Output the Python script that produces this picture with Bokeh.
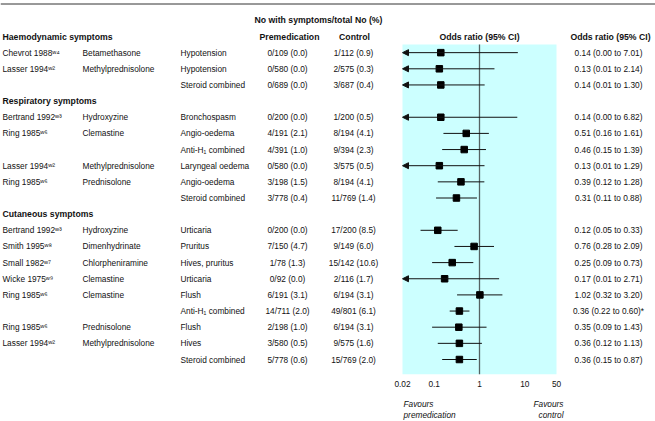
import math
from bokeh.plotting import figure
from bokeh.layouts import column
from bokeh.models import (Range1d, LogScale, LogAxis, FixedTicker, CustomJSTickFormatter,
                          ColumnDataSource, Span, BoxAnnotation, Arrow, NormalHead)
from bokeh.embed import file_html
from bokeh.resources import INLINE
from bokeh.core.properties import value

# ---------------- data ----------------
sections = ["Haemodynamic symptoms", "Respiratory symptoms", "Cutaneous symptoms"]
section = [0, 0, 0,
           1, 1, 1, 1, 1, 1,
           2, 2, 2, 2, 2, 2, 2, 2, 2]
study = ["Chevrot 1988ʷ⁴", "Lasser 1994ʷ²", "",
         "Bertrand 1992ʷ³", "Ring 1985ʷ⁶", "", "Lasser 1994ʷ²", "Ring 1985ʷ⁶", "",
         "Bertrand 1992ʷ³", "Smith 1995ʷ⁸", "Small 1982ʷ⁷", "Wicke 1975ʷ⁹", "Ring 1985ʷ⁶", "",
         "Ring 1985ʷ⁶", "Lasser 1994ʷ²", ""]
drug = ["Betamethasone", "Methylprednisolone", "",
        "Hydroxyzine", "Clemastine", "", "Methylprednisolone", "Prednisolone", "",
        "Hydroxyzine", "Dimenhydrinate", "Chlorpheniramine", "Clemastine", "Clemastine", "",
        "Prednisolone", "Methylprednisolone", ""]
symptom = ["Hypotension", "Hypotension", "Steroid combined",
           "Bronchospasm", "Angio-oedema", "Anti-H₁ combined", "Laryngeal oedema", "Angio-oedema", "Steroid combined",
           "Urticaria", "Pruritus", "Hives, pruritus", "Urticaria", "Flush", "Anti-H₁ combined",
           "Flush", "Hives", "Steroid combined"]
premed = ["0/109 (0.0)", "0/580 (0.0)", "0/689 (0.0)",
          "0/200 (0.0)", "4/191 (2.1)", "4/391 (1.0)", "0/580 (0.0)", "3/198 (1.5)", "3/778 (0.4)",
          "0/200 (0.0)", "7/150 (4.7)", "1/78 (1.3)", "0/92 (0.0)", "6/191 (3.1)", "14/711 (2.0)",
          "2/198 (1.0)", "3/580 (0.5)", "5/778 (0.6)"]
control = ["1/112 (0.9)", "2/575 (0.3)", "3/687 (0.4)",
           "1/200 (0.5)", "8/194 (4.1)", "9/394 (2.3)", "3/575 (0.5)", "8/194 (4.1)", "11/769 (1.4)",
           "17/200 (8.5)", "9/149 (6.0)", "15/142 (10.6)", "2/116 (1.7)", "6/194 (3.1)", "49/801 (6.1)",
           "6/194 (3.1)", "9/575 (1.6)", "15/769 (2.0)"]
odds = [0.14, 0.13, 0.14,
        0.14, 0.51, 0.46, 0.13, 0.39, 0.31,
        0.12, 0.76, 0.25, 0.17, 1.02, 0.36, 0.35, 0.36, 0.36]
ci_low = [0.00, 0.01, 0.01,
          0.00, 0.16, 0.15, 0.01, 0.12, 0.11,
          0.05, 0.28, 0.09, 0.01, 0.32, 0.22, 0.09, 0.12, 0.15]
ci_high = [7.01, 2.14, 1.30,
           6.82, 1.61, 1.39, 1.29, 1.28, 0.88,
           0.33, 2.09, 0.73, 2.71, 3.20, 0.60, 1.43, 1.13, 0.87]
or_text = ["0.14 (0.00 to 7.01)", "0.13 (0.01 to 2.14)", "0.14 (0.01 to 1.30)",
           "0.14 (0.00 to 6.82)", "0.51 (0.16 to 1.61)", "0.46 (0.15 to 1.39)", "0.13 (0.01 to 1.29)",
           "0.39 (0.12 to 1.28)", "0.31 (0.11 to 0.88)",
           "0.12 (0.05 to 0.33)", "0.76 (0.28 to 2.09)", "0.25 (0.09 to 0.73)", "0.17 (0.01 to 2.71)",
           "1.02 (0.32 to 3.20)", "0.36 (0.22 to 0.60)*", "0.35 (0.09 to 1.43)", "0.36 (0.12 to 1.13)",
           "0.36 (0.15 to 0.87)"]
ticks = [0.02, 0.1, 1, 10, 50]
tick_labels = ["0.02", "0.1", "1", "10", "50"]
favours_left = ["Favours", "premedication"]
favours_right = ["Favours", "control"]

# ---------------- layout (reference pixel geometry) ----------------
FONT = value("Liberation Sans")
FS = "8.3px"
FS_BOLD = "8.7px"
W = 655
H_MAIN, H_FOOT = 392, 29
BOTTOM_BORDER = 18
X0, X1 = 0, 655                 # reference-pixel x range for table columns
PANEL_L, PANEL_R = 402, 556     # where the log panel sits
ROW0, PITCH = 36, 16.15
FRAME_TOP_REF, FRAME_BOT_REF = 0, 374
y_bottom = (FRAME_BOT_REF - ROW0) / PITCH
y_top = (FRAME_TOP_REF - ROW0) / PITCH

lo_ax, hi_ax = ticks[0], ticks[-1]
a, b = math.log10(lo_ax), math.log10(hi_ax)
slope = (b - a) / (PANEL_R - PANEL_L)
log_start = 10 ** (a - (PANEL_L - X0) * slope)
log_end = 10 ** (b + (X1 - PANEL_R) * slope)

# row positions
rows, header_rows = [], []
cur, prev = -1, None
for s in section:
    if s != prev:
        cur += 1
        header_rows.append(cur)
        prev = s
    cur += 1
    rows.append(cur)

lo_clip = [max(v, lo_ax) for v in ci_low]
clipped = [v < lo_ax for v in ci_low]

src = ColumnDataSource(dict(y=rows, study=study, drug=drug, symptom=symptom, premed=premed,
                            control=control, odds=odds, lo=lo_clip, hi=ci_high, ortext=or_text))
src_plain = ColumnDataSource(dict(
    y=[r for r, c in zip(rows, clipped) if not c],
    lo=[l for l, c in zip(lo_clip, clipped) if not c],
    hi=[h for h, c in zip(ci_high, clipped) if not c]))
src_arrow = ColumnDataSource(dict(
    y=[r for r, c in zip(rows, clipped) if c],
    lo=[l for l, c in zip(lo_clip, clipped) if c],
    hi=[h for h, c in zip(ci_high, clipped) if c]))
src_head = ColumnDataSource(dict(y=header_rows, text=sections))

p = figure(width=W, height=H_MAIN, output_backend="svg", toolbar_location=None,
           x_range=Range1d(X0, X1), y_range=Range1d(y_bottom, y_top),
           x_axis_location=None, y_axis_location=None,
           min_border_left=0, min_border_right=0, min_border_top=0,
           min_border_bottom=BOTTOM_BORDER)
p.outline_line_color = None
p.background_fill_color = "white"
p.border_fill_color = "white"
p.xgrid.visible = False
p.ygrid.visible = False
p.extra_x_ranges = {"log": Range1d(log_start, log_end)}
p.extra_x_scales = {"log": LogScale()}

# panel
p.add_layout(BoxAnnotation(left=lo_ax, right=hi_ax, top=0.5, bottom=None, x_range_name="log",
                           fill_color="#ccffff", fill_alpha=1.0, line_color=None, level="underlay"))
# top rule
p.add_layout(Span(location=(3.5 - ROW0) / PITCH, dimension="width", line_color="#333333", line_width=1))

# null line
p.segment(x0=[1], x1=[1], y0=[0.5], y1=[y_bottom], x_range_name="log",
          line_color="#556363", line_width=1.3)

# CI lines
p.segment(x0="lo", x1="hi", y0="y", y1="y", source=src_plain, x_range_name="log",
          line_color="#111111", line_width=1)
p.add_layout(Arrow(end=NormalHead(size=6, fill_color="#111111", line_color="#111111", line_width=1),
                   x_start="hi", y_start="y", x_end="lo", y_end="y", source=src_arrow,
                   x_range_name="log", line_color="#111111", line_width=1))
p.scatter(x="odds", y="y", source=src, marker="square", size=6.5, x_range_name="log",
          fill_color="black", line_color="black")

# table texts
common = dict(text_font=FONT, text_font_size=FS, text_baseline="middle", text_color="#111111")
p.text(x=2, y="y", text="study", source=src, text_align="left", **common)
p.text(x=82, y="y", text="drug", source=src, text_align="left", **common)
p.text(x=180, y="y", text="symptom", source=src, text_align="left", **common)
p.text(x=287, y="y", text="premed", source=src, text_align="center", **common)
p.text(x=353, y="y", text="control", source=src, text_align="center", **common)
p.text(x=608, y="y", text="ortext", source=src, text_align="center", **common)

bold = dict(common, text_font_style="bold", text_font_size=FS_BOLD)
p.text(x=2, y="y", text="text", source=src_head, text_align="left", **bold)
p.text(x=[318], y=[-1], text=["No with symptoms/total No (%)"], text_align="center", **bold)
p.text(x=[289, 354, 479, 610], y=[0, 0, 0, 0],
       text=["Premedication", "Control", "Odds ratio (95% CI)", "Odds ratio (95% CI)"],
       text_align="center", **bold)

# axis
axis = LogAxis(x_range_name="log", ticker=FixedTicker(ticks=ticks),
               formatter=CustomJSTickFormatter(args=dict(t=ticks, l=tick_labels), code="""
                   for (let i = 0; i < t.length; i++) {
                       if (Math.abs(t[i] - tick) < 1e-9 * Math.max(1, Math.abs(t[i]))) return l[i];
                   }
                   return '';"""),
               axis_line_color=None, major_tick_line_color=None, minor_tick_line_color=None,
               major_tick_in=0, major_tick_out=0, minor_tick_in=0, minor_tick_out=0,
               major_label_standoff=6, major_label_text_font="Liberation Sans",
               major_label_text_font_size=FS, major_label_text_color="#111111")
p.add_layout(axis, "below")

# footer with the "Favours" captions
foot = figure(width=W, height=H_FOOT, output_backend="svg", toolbar_location=None,
              x_range=p.x_range, y_range=Range1d(421, 392),
              x_axis_location=None, y_axis_location=None,
              min_border_left=0, min_border_right=0, min_border_top=0, min_border_bottom=0)
foot.outline_line_color = None
foot.xgrid.visible = False
foot.ygrid.visible = False
ital = dict(common, text_font_style="italic")
foot.text(x=403, y=[403, 414], text=favours_left, text_align="left", **ital)
foot.text(x=563, y=[403, 414], text=favours_right, text_align="right", **ital)

layout = column(p, foot, spacing=0)
open("out.html", "w").write(file_html(layout, INLINE))
